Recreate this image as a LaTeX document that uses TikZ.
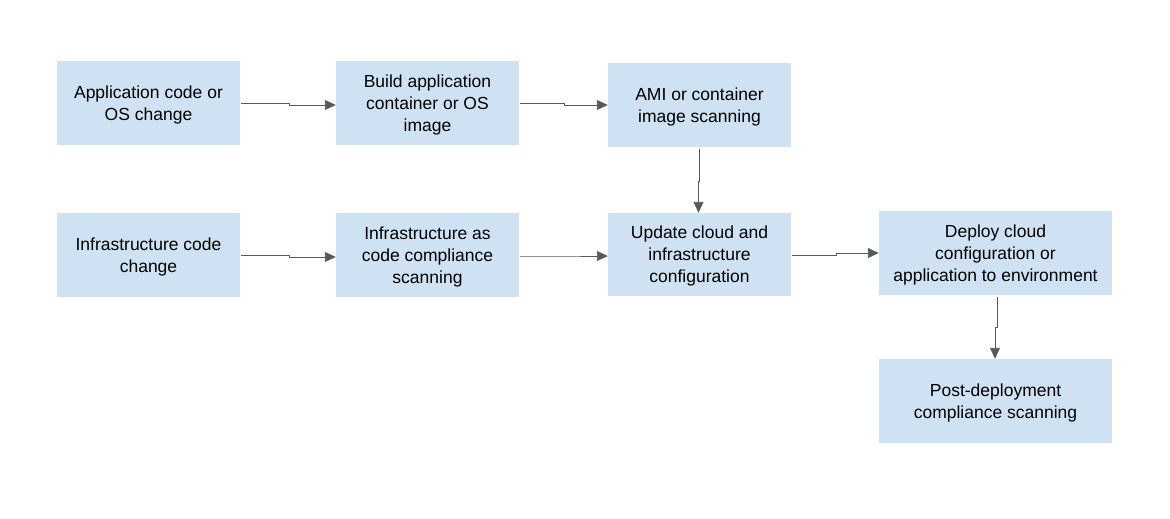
\documentclass[tikz,border=0pt]{standalone}
\usepackage{fontspec}
\setmainfont{Liberation Sans}
\usetikzlibrary{arrows.meta}
\definecolor{boxblue}{HTML}{CFE2F3}
\definecolor{arrgray}{HTML}{595959}
\begin{document}
\begin{tikzpicture}[x=1pt,y=-1pt,
  box/.style={fill=boxblue, draw=none, inner sep=0pt, align=center,
    font=\fontsize{17.5}{22}\selectfont, text=black},
  arr/.style={draw=arrgray, line width=0.9pt, -{Triangle[length=11pt,width=10pt]}}]
\useasboundingbox (0,0) rectangle (1170,519);
\newcommand{\bx}[6]{\node[box, minimum width=#4-#2, minimum height=#5-#3] (#1) at ({(#2+#4)/2},{(#3+#5)/2}) {\raisebox{-2pt}[\height][\depth]{\begin{tabular}{@{}c@{}}#6\end{tabular}}};}
\bx{n1}{57}{61}{240}{145}{Application code or\\OS change}
\bx{n2}{336}{61}{519}{145}{Build application\\container or OS\\image}
\bx{n3}{608}{63}{791}{147}{AMI or container\\image scanning}
\bx{n4}{57}{213}{240}{297}{Infrastructure code\\change}
\bx{n5}{336}{213}{519}{297}{Infrastructure as\\code compliance\\scanning}
\bx{n6}{608}{213}{791}{296}{Update cloud and\\infrastructure\\configuration}
\bx{n7}{879}{211}{1112}{295}{Deploy cloud\\configuration or\\application to environment}
\bx{n8}{879}{359}{1112}{443}{Post-deployment\\compliance scanning}
\draw[arr] ([xshift=1pt]n1.east) -- ++(48,0) -- ++(0,2) -- ([yshift=-2pt]n2.west);
\draw[arr] ([xshift=1pt]n2.east) -- ++(44,0) -- ++(0,2) -- (n3.west);
\draw[arr] ([yshift=-2pt]n3.south) -- ++(0,32) -- ++(-1,0) -- ([xshift=-1pt]n6.north);
\draw[arr] ([xshift=1pt]n4.east) -- ++(48,0) -- ++(0,2) -- ([yshift=-2pt]n5.west);
\draw[arr] ([xshift=1pt,yshift=-1pt]n5.east) -- ++(44,0) -- ([yshift=-1.5pt]n6.west);
\draw[arr] ([xshift=1pt,yshift=-0.5pt]n6.east) -- ++(44,0) -- ++(0,-2) -- (n7.west);
\draw[arr] ([xshift=1.5pt,yshift=-2pt]n7.south) -- ++(0,30) -- ++(-2,0) -- ([xshift=-0.5pt]n8.north);
\end{tikzpicture}
\end{document}
